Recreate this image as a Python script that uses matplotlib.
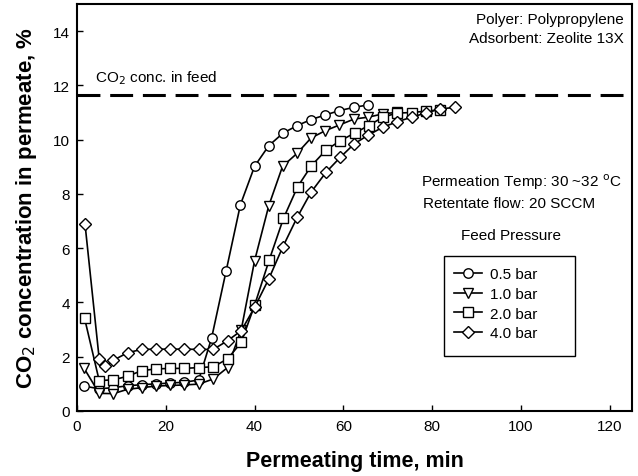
import matplotlib
matplotlib.use('Agg')
import matplotlib.pyplot as plt
from matplotlib.patches import Rectangle

plt.rcParams['font.family'] = ['Liberation Sans', 'DejaVu Sans']

# data (time in min, CO2 %)
t_05 = [1.5, 5.0, 8.2, 11.4, 14.6, 17.8, 20.9, 24.1, 27.4, 30.3, 33.6, 36.8, 40.0, 43.2,
        46.4, 49.6, 52.7, 55.9, 59.1, 62.3, 65.6]
c_05 = [0.92, 0.82, 0.86, 0.93, 0.97, 1.0, 1.03, 1.06, 1.14, 2.68, 5.17, 7.6, 9.02, 9.78,
        10.24, 10.52, 10.74, 10.91, 11.07, 11.19, 11.28]

t_10 = [1.5, 5.0, 8.2, 11.4, 14.6, 17.8, 20.9, 24.1, 27.4, 30.7, 33.9, 37.0, 40.0, 43.2,
        46.3, 49.6, 52.7, 55.9, 59.1, 62.4, 65.6, 68.9, 72.1]
c_10 = [1.6, 0.65, 0.64, 0.8, 0.86, 0.92, 0.94, 0.96, 0.99, 1.18, 1.6, 3.0, 5.54, 7.57,
        9.02, 9.5, 10.06, 10.33, 10.54, 10.76, 10.83, 10.95, 11.01]

t_20 = [1.7, 5.0, 8.2, 11.4, 14.6, 17.8, 20.9, 24.1, 27.4, 30.7, 33.9, 37.0, 40.0, 43.3,
        46.5, 49.7, 52.8, 56.1, 59.3, 62.6, 65.7, 68.9, 72.1, 75.4, 78.5, 81.7]
c_20 = [3.42, 1.12, 1.15, 1.28, 1.49, 1.55, 1.57, 1.57, 1.6, 1.63, 1.92, 2.53, 3.9, 5.57,
        7.1, 8.27, 9.04, 9.62, 9.96, 10.25, 10.52, 10.83, 10.98, 11.0, 11.05, 11.1]

t_40 = [1.8, 5.0, 6.4, 8.2, 11.4, 14.6, 17.8, 20.9, 24.1, 27.4, 30.7, 33.9, 37.0, 40.0,
        43.2, 46.3, 49.6, 52.7, 56.1, 59.3, 62.4, 65.6, 68.9, 72.1, 75.4, 78.5, 81.7, 85.1]
c_40 = [6.9, 1.92, 1.65, 1.87, 2.15, 2.27, 2.28, 2.28, 2.28, 2.27, 2.27, 2.59, 2.96, 3.82,
        4.87, 6.03, 7.14, 8.06, 8.8, 9.35, 9.84, 10.17, 10.46, 10.66, 10.83, 10.98, 11.13, 11.19]

feed_conc = 11.65
labels = ['0.5 bar', '1.0 bar', '2.0 bar', '4.0 bar']

fig = plt.figure(figsize=(6.38, 4.77), dpi=100)
ax = fig.add_axes([77/638, 1-412/477, 555/638, 407/477])

series = [(t_05, c_05, 'o'), (t_10, c_10, 'v'), (t_20, c_20, 's'), (t_40, c_40, 'D')]
sizes = {'o': 6.8, 'v': 7.3, 's': 6.8, 'D': 5.8}
for (t, c, m), lab in zip(series, labels):
    ax.plot(t, c, color='black', lw=1.2, marker=m, ms=sizes[m], mfc='white',
            mec='black', mew=1.0, label=lab)

ax.axhline(feed_conc, color='black', lw=2.2, dashes=(7.5, 3.2))

ax.set_xlim(0, 125)
ax.set_ylim(0, 15)
ax.set_xticks([0, 20, 40, 60, 80, 100, 120])
ax.set_yticks([0, 2, 4, 6, 8, 10, 12, 14])
ax.tick_params(direction='in', length=4, width=1, labelsize=11, pad=6, colors='black')
ax.tick_params(axis='y', pad=5)
for s in ax.spines.values():
    s.set_linewidth(1.5)

ax.set_xlabel('Permeating time, min', fontsize=15.5, fontweight='bold', labelpad=12)
ax.set_ylabel('CO$_2$ concentration in permeate, %', fontsize=16, fontweight='bold', labelpad=10)

fs = 11
ax.text(123.2, 14.45, 'Polyer: Polypropylene', ha='right', va='center', fontsize=fs)
ax.text(123.2, 13.75, 'Adsorbent: Zeolite 13X', ha='right', va='center', fontsize=fs)
ax.text(4.1, 12.31, 'CO$_2$ conc. in feed', ha='left', va='center', fontsize=fs)
ax.text(77.4, 8.48, 'Permeation Temp: 30 ~32 $^{\\rm o}$C', ha='left', va='center', fontsize=fs)
ax.text(78.0, 7.67, 'Retentate flow: 20 SCCM', ha='left', va='center', fontsize=fs)
ax.text(86.4, 6.5, 'Feed Pressure', ha='left', va='center', fontsize=fs)

# legend box drawn separately so its size matches the original
ax.add_patch(Rectangle((0.661, 0.135), 0.236, 0.2457, transform=ax.transAxes,
                       fill=False, edgecolor='black', lw=1.0, zorder=5))
ax.legend(loc='upper left', bbox_to_anchor=(0.679, 0.3526), fontsize=fs, frameon=False,
          handlelength=1.83, borderpad=0, labelspacing=0.37, handletextpad=0.52,
          borderaxespad=0)

fig.savefig('out.png', dpi=100)
